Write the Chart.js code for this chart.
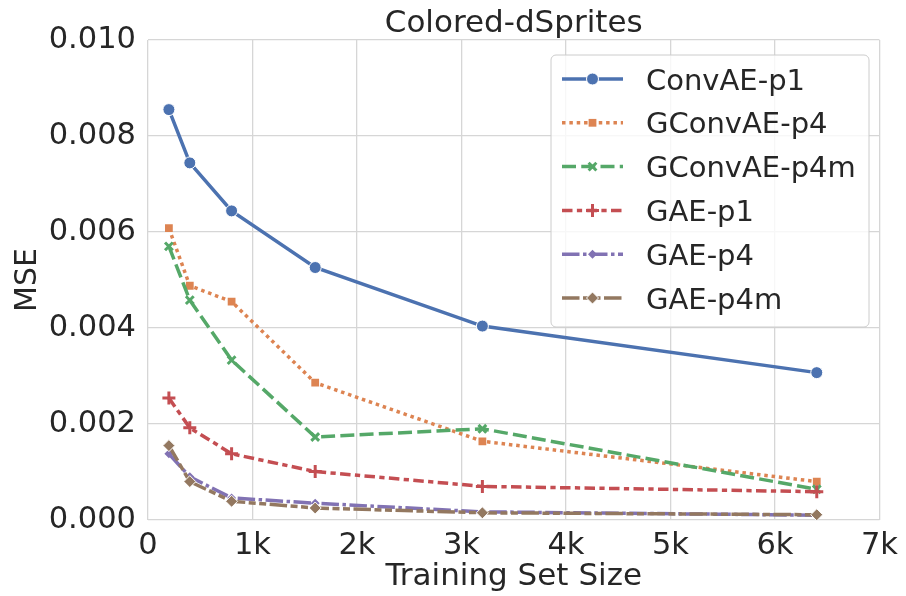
<!DOCTYPE html>
<html>
<head>
<meta charset="utf-8">
<script src="https://cdn.jsdelivr.net/npm/chart.js@4/dist/chart.umd.min.js"></script>
<style>
  html, body { margin: 0; padding: 0; background: #fff; }
  canvas { display: block; }
</style>
</head>
<body>
<canvas id="mseChart" width="906" height="596"></canvas>
<script>
// training set sizes (x)
var sizes = [200, 400, 800, 1600, 3200, 6400];

// MSE per model
var convAE_p1   = [0.00855, 0.00744, 0.00644, 0.00526, 0.00404, 0.00307];
var gconvAE_p4  = [0.00608, 0.00488, 0.00455, 0.00286, 0.00164, 0.00080];
var gconvAE_p4m = [0.00570, 0.00458, 0.00333, 0.00173, 0.00190, 0.00064];
var gae_p1      = [0.00254, 0.00192, 0.00138, 0.00101, 0.00070, 0.00059];
var gae_p4      = [0.00138, 0.00090, 0.00046, 0.00035, 0.00017, 0.00010];
var gae_p4m     = [0.00155, 0.00080, 0.00039, 0.00025, 0.00015, 0.00011];

var labels = ['ConvAE-p1', 'GConvAE-p4', 'GConvAE-p4m', 'GAE-p1', 'GAE-p4', 'GAE-p4m'];
var series = [convAE_p1, gconvAE_p4, gconvAE_p4m, gae_p1, gae_p4, gae_p4m];

var xTicks = [0, 1000, 2000, 3000, 4000, 5000, 6000, 7000];
var yTicks = [0, 0.002, 0.004, 0.006, 0.008, 0.010];

// seaborn "deep" palette
var colors = ['#4C72B0', '#DD8452', '#55A868', '#C44E52', '#8172B3', '#937860'];
var LW = 3.5;
var dashes = [
  [],
  [LW, LW * 1.1],
  [LW * 4, LW * 1.5],
  [LW * 3, LW * 1.25, LW * 1.5, LW * 1.25],
  [LW * 5, LW, LW, LW],
  [LW * 5, LW, LW * 2, LW, LW * 2, LW]
];
var markers = [
  { style: 'circle',   r: 6,   bw: 1, edge: '#fff' },
  { style: 'rect',     r: 5.5, bw: 0, edge: '#fff' },
  { style: 'crossRot', r: 5.5, bw: 3, edge: null },
  { style: 'cross',    r: 6.5, bw: 3, edge: null },
  { style: 'rectRot',  r: 4.5, bw: 0, edge: '#fff' },
  { style: 'rectRot',  r: 6,   bw: 1, edge: '#fff' }
];

var FONT = "'DejaVu Sans', sans-serif";
var TEXT = '#262626';
var GRID = '#d6d6d6';

var datasets = labels.map(function(name, i) {
  var m = markers[i];
  return {
    label: name,
    data: sizes.map(function(s, j) { return { x: s, y: series[i][j] }; }),
    borderColor: colors[i],
    backgroundColor: colors[i],
    borderWidth: LW,
    borderDash: dashes[i],
    pointStyle: m.style,
    pointRadius: m.r,
    pointBackgroundColor: colors[i],
    pointBorderColor: m.edge || colors[i],
    pointBorderWidth: m.bw,
    tension: 0,
    fill: false,
    order: labels.length - i
  };
});

// title drawn above the plot area
var titlePlugin = {
  id: 'plotTitle',
  afterDraw: function(chart) {
    var ctx = chart.ctx, a = chart.chartArea;
    ctx.save();
    ctx.fillStyle = TEXT;
    ctx.font = '31px ' + FONT;
    ctx.textAlign = 'center';
    ctx.textBaseline = 'alphabetic';
    ctx.fillText('Colored-dSprites', (a.left + a.right) / 2, 31.5);
    ctx.restore();
  }
};

// matplotlib-like legend box inside the axes
var legendPlugin = {
  id: 'boxLegend',
  afterDatasetsDraw: function(chart) {
    var ctx = chart.ctx;
    var bx = 551, by = 55, bw = 318, bh = 272, rad = 5;
    ctx.save();
    ctx.beginPath();
    ctx.moveTo(bx + rad, by);
    ctx.arcTo(bx + bw, by, bx + bw, by + bh, rad);
    ctx.arcTo(bx + bw, by + bh, bx, by + bh, rad);
    ctx.arcTo(bx, by + bh, bx, by, rad);
    ctx.arcTo(bx, by, bx + bw, by, rad);
    ctx.closePath();
    ctx.fillStyle = 'rgba(255,255,255,0.8)';
    ctx.fill();
    ctx.strokeStyle = '#cccccc';
    ctx.lineWidth = 1;
    ctx.stroke();

    chart.data.datasets.forEach(function(ds, i) {
      var y = 79 + i * 43.8;
      ctx.setLineDash(ds.borderDash);
      ctx.strokeStyle = ds.borderColor;
      ctx.lineWidth = ds.borderWidth;
      ctx.beginPath();
      ctx.moveTo(562, y);
      ctx.lineTo(623, y);
      ctx.stroke();
      ctx.setLineDash([]);
      ctx.fillStyle = ds.pointBackgroundColor;
      ctx.strokeStyle = ds.pointBorderColor;
      ctx.lineWidth = ds.pointBorderWidth;
      Chart.helpers.drawPoint(ctx, {
        pointStyle: ds.pointStyle,
        radius: ds.pointRadius,
        borderWidth: ds.pointBorderWidth,
        rotation: 0
      }, 592.5, y);
      ctx.fillStyle = TEXT;
      ctx.font = '29px ' + FONT;
      ctx.textAlign = 'left';
      ctx.textBaseline = 'alphabetic';
      ctx.fillText(ds.label, 646, y + 10.5);
    });
    ctx.restore();
  }
};

new Chart(document.getElementById('mseChart').getContext('2d'), {
  type: 'line',
  data: { datasets: datasets },
  plugins: [titlePlugin, legendPlugin],
  options: {
    responsive: false,
    animation: false,
    devicePixelRatio: 1,
    layout: { padding: { left: 0, right: 20, top: 40, bottom: 0 } },
    plugins: {
      legend: { display: false },
      title: { display: false },
      tooltip: { enabled: false }
    },
    scales: {
      x: {
        type: 'linear',
        min: 0,
        max: 7000,
        afterFit: function(scale) { scale.height = 76; },
        afterBuildTicks: function(scale) {
          scale.ticks = xTicks.map(function(v) { return { value: v }; });
        },
        ticks: {
          color: TEXT,
          font: { family: FONT, size: 30.5 },
          padding: 8,
          maxRotation: 0,
          callback: function(v) { return v === 0 ? '0' : (v / 1000) + 'k'; }
        },
        grid: { color: GRID, lineWidth: 1.3, drawTicks: false },
        border: { display: false },
        title: {
          display: true,
          text: 'Training Set Size',
          color: TEXT,
          font: { family: FONT, size: 31 },
          padding: { top: 0, bottom: 0 }
        }
      },
      y: {
        min: 0,
        max: 0.010,
        afterFit: function(scale) { scale.width = 148; },
        afterBuildTicks: function(scale) {
          scale.ticks = yTicks.map(function(v) { return { value: v }; });
        },
        ticks: {
          color: TEXT,
          font: { family: FONT, size: 30.5 },
          padding: 12,
          callback: function(v) { return v.toFixed(3); }
        },
        grid: { color: GRID, lineWidth: 1.3, drawTicks: false },
        border: { display: false },
        title: {
          display: true,
          text: 'MSE',
          color: TEXT,
          font: { family: FONT, size: 30 },
          padding: { top: 10, bottom: 0 }
        }
      }
    }
  }
});
</script>
</body>
</html>
